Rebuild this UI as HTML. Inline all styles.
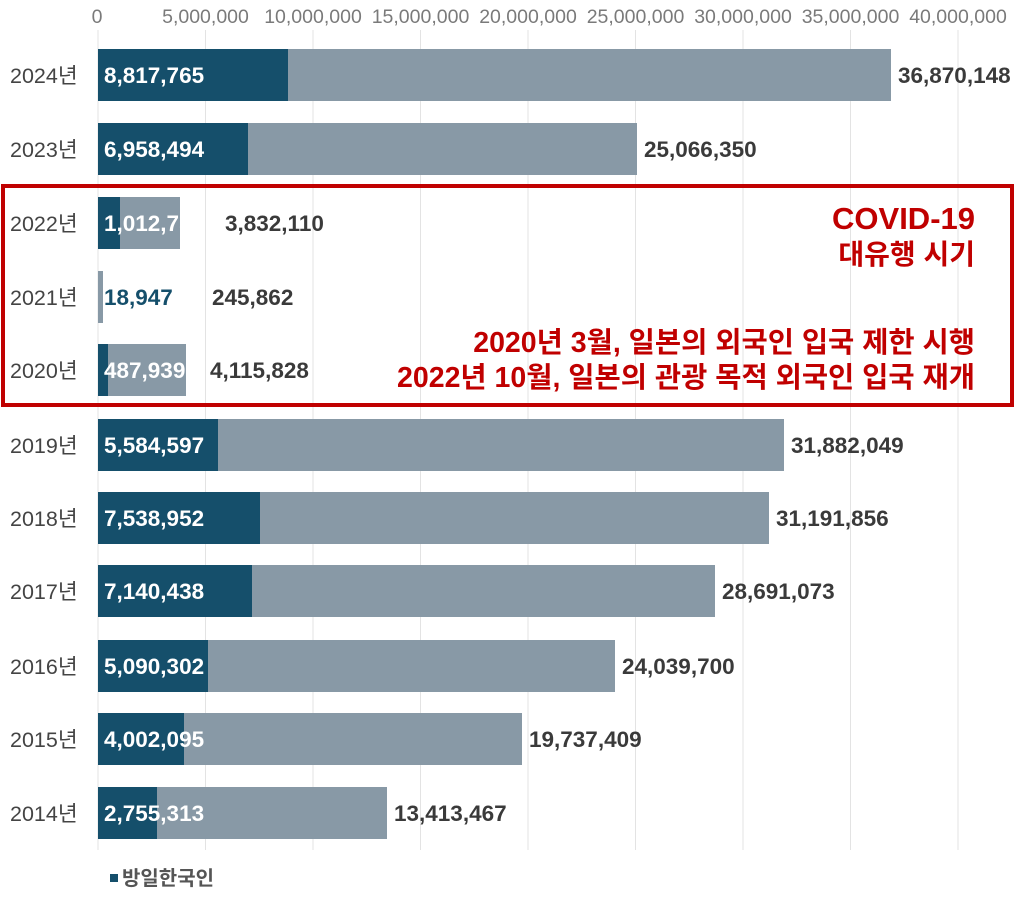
<!DOCTYPE html><html><head><meta charset="utf-8"><style>body{margin:0;background:#fff}svg{display:block}text{font-family:"Liberation Sans","Noto Sans CJK KR",sans-serif}</style></head><body>
<svg width="1024" height="898" viewBox="0 0 1024 898">
<g stroke="#e3e3e3" stroke-width="1">
<line x1="98" y1="30" x2="98" y2="850"/><line x1="205.5" y1="30" x2="205.5" y2="850"/><line x1="313" y1="30" x2="313" y2="850"/><line x1="420.5" y1="30" x2="420.5" y2="850"/><line x1="528" y1="30" x2="528" y2="850"/><line x1="635.5" y1="30" x2="635.5" y2="850"/><line x1="743" y1="30" x2="743" y2="850"/><line x1="850.5" y1="30" x2="850.5" y2="850"/><line x1="958" y1="30" x2="958" y2="850"/>
</g>
<g font-size="19.5" fill="#7a7a7a" text-anchor="middle">
<text x="97" y="23">0</text><text x="205.5" y="23">5,000,000</text><text x="313" y="23">10,000,000</text><text x="420.5" y="23">15,000,000</text><text x="528" y="23">20,000,000</text><text x="635.5" y="23">25,000,000</text><text x="743" y="23">30,000,000</text><text x="850.5" y="23">35,000,000</text><text x="958" y="23">40,000,000</text>
</g>
<g>
<rect x="98" y="49" width="793" height="52" fill="#8899a6"/><rect x="98" y="49" width="190" height="52" fill="#154f6b"/>
<rect x="98" y="123" width="539" height="52" fill="#8899a6"/><rect x="98" y="123" width="150" height="52" fill="#154f6b"/>
<rect x="98" y="197" width="82" height="52" fill="#8899a6"/><rect x="98" y="197" width="22" height="52" fill="#154f6b"/>
<rect x="98" y="271" width="5" height="52" fill="#8899a6"/>
<rect x="98" y="344" width="88" height="52" fill="#8899a6"/><rect x="98" y="344" width="10" height="52" fill="#154f6b"/>
<rect x="98" y="419" width="686" height="52" fill="#8899a6"/><rect x="98" y="419" width="120" height="52" fill="#154f6b"/>
<rect x="98" y="492" width="671" height="52" fill="#8899a6"/><rect x="98" y="492" width="162" height="52" fill="#154f6b"/>
<rect x="98" y="565" width="617" height="52" fill="#8899a6"/><rect x="98" y="565" width="154" height="52" fill="#154f6b"/>
<rect x="98" y="640" width="517" height="52" fill="#8899a6"/><rect x="98" y="640" width="110" height="52" fill="#154f6b"/>
<rect x="98" y="713" width="424" height="52" fill="#8899a6"/><rect x="98" y="713" width="86" height="52" fill="#154f6b"/>
<rect x="98" y="787" width="289" height="52" fill="#8899a6"/><rect x="98" y="787" width="59" height="52" fill="#154f6b"/>
</g>
<g font-size="21.5" fill="#444">
<text x="10" y="83">2024년</text><text x="10" y="157">2023년</text><text x="10" y="231">2022년</text><text x="10" y="305">2021년</text><text x="10" y="378">2020년</text><text x="10" y="453">2019년</text><text x="10" y="526">2018년</text><text x="10" y="599">2017년</text><text x="10" y="674">2016년</text><text x="10" y="747">2015년</text><text x="10" y="821">2014년</text>
</g>
<g font-size="22.5" fill="#fff" font-weight="bold">
<text x="104" y="83">8,817,765</text><text x="104" y="157">6,958,494</text><text x="104" y="231">1,012,751</text><text x="104" y="305" fill="#154f6b">18,947</text><text x="104" y="378">487,939</text><text x="104" y="453">5,584,597</text><text x="104" y="526">7,538,952</text><text x="104" y="599">7,140,438</text><text x="104" y="674">5,090,302</text><text x="104" y="747">4,002,095</text><text x="104" y="821">2,755,313</text>
</g>
<g font-size="22.5" fill="#3a3a3a" font-weight="bold">
<text x="898" y="83">36,870,148</text><text x="644" y="157">25,066,350</text><text x="225" y="231">3,832,110</text><text x="212" y="305">245,862</text><text x="210" y="378">4,115,828</text><text x="791" y="453">31,882,049</text><text x="776" y="526">31,191,856</text><text x="722" y="599">28,691,073</text><text x="622" y="674">24,039,700</text><text x="529" y="747">19,737,409</text><text x="394" y="821">13,413,467</text>
</g>
<rect x="3" y="186" width="1009" height="219" fill="none" stroke="#c00000" stroke-width="4"/>
<g fill="#c00000" font-weight="bold" text-anchor="end">
<text x="975" y="229" font-size="31">COVID-19</text><text x="975" y="264" font-size="28">대유행 시기</text>
<text x="975" y="352" font-size="28.5">2020년 3월, 일본의 외국인 입국 제한 시행</text><text x="975" y="387" font-size="28.5">2022년 10월, 일본의 관광 목적 외국인 입국 재개</text>
</g>
<rect x="110" y="874" width="8" height="8" fill="#154f6b"/>
<text x="122" y="885" font-size="20" font-weight="bold" fill="#555">방일한국인</text>
</svg></body></html>
